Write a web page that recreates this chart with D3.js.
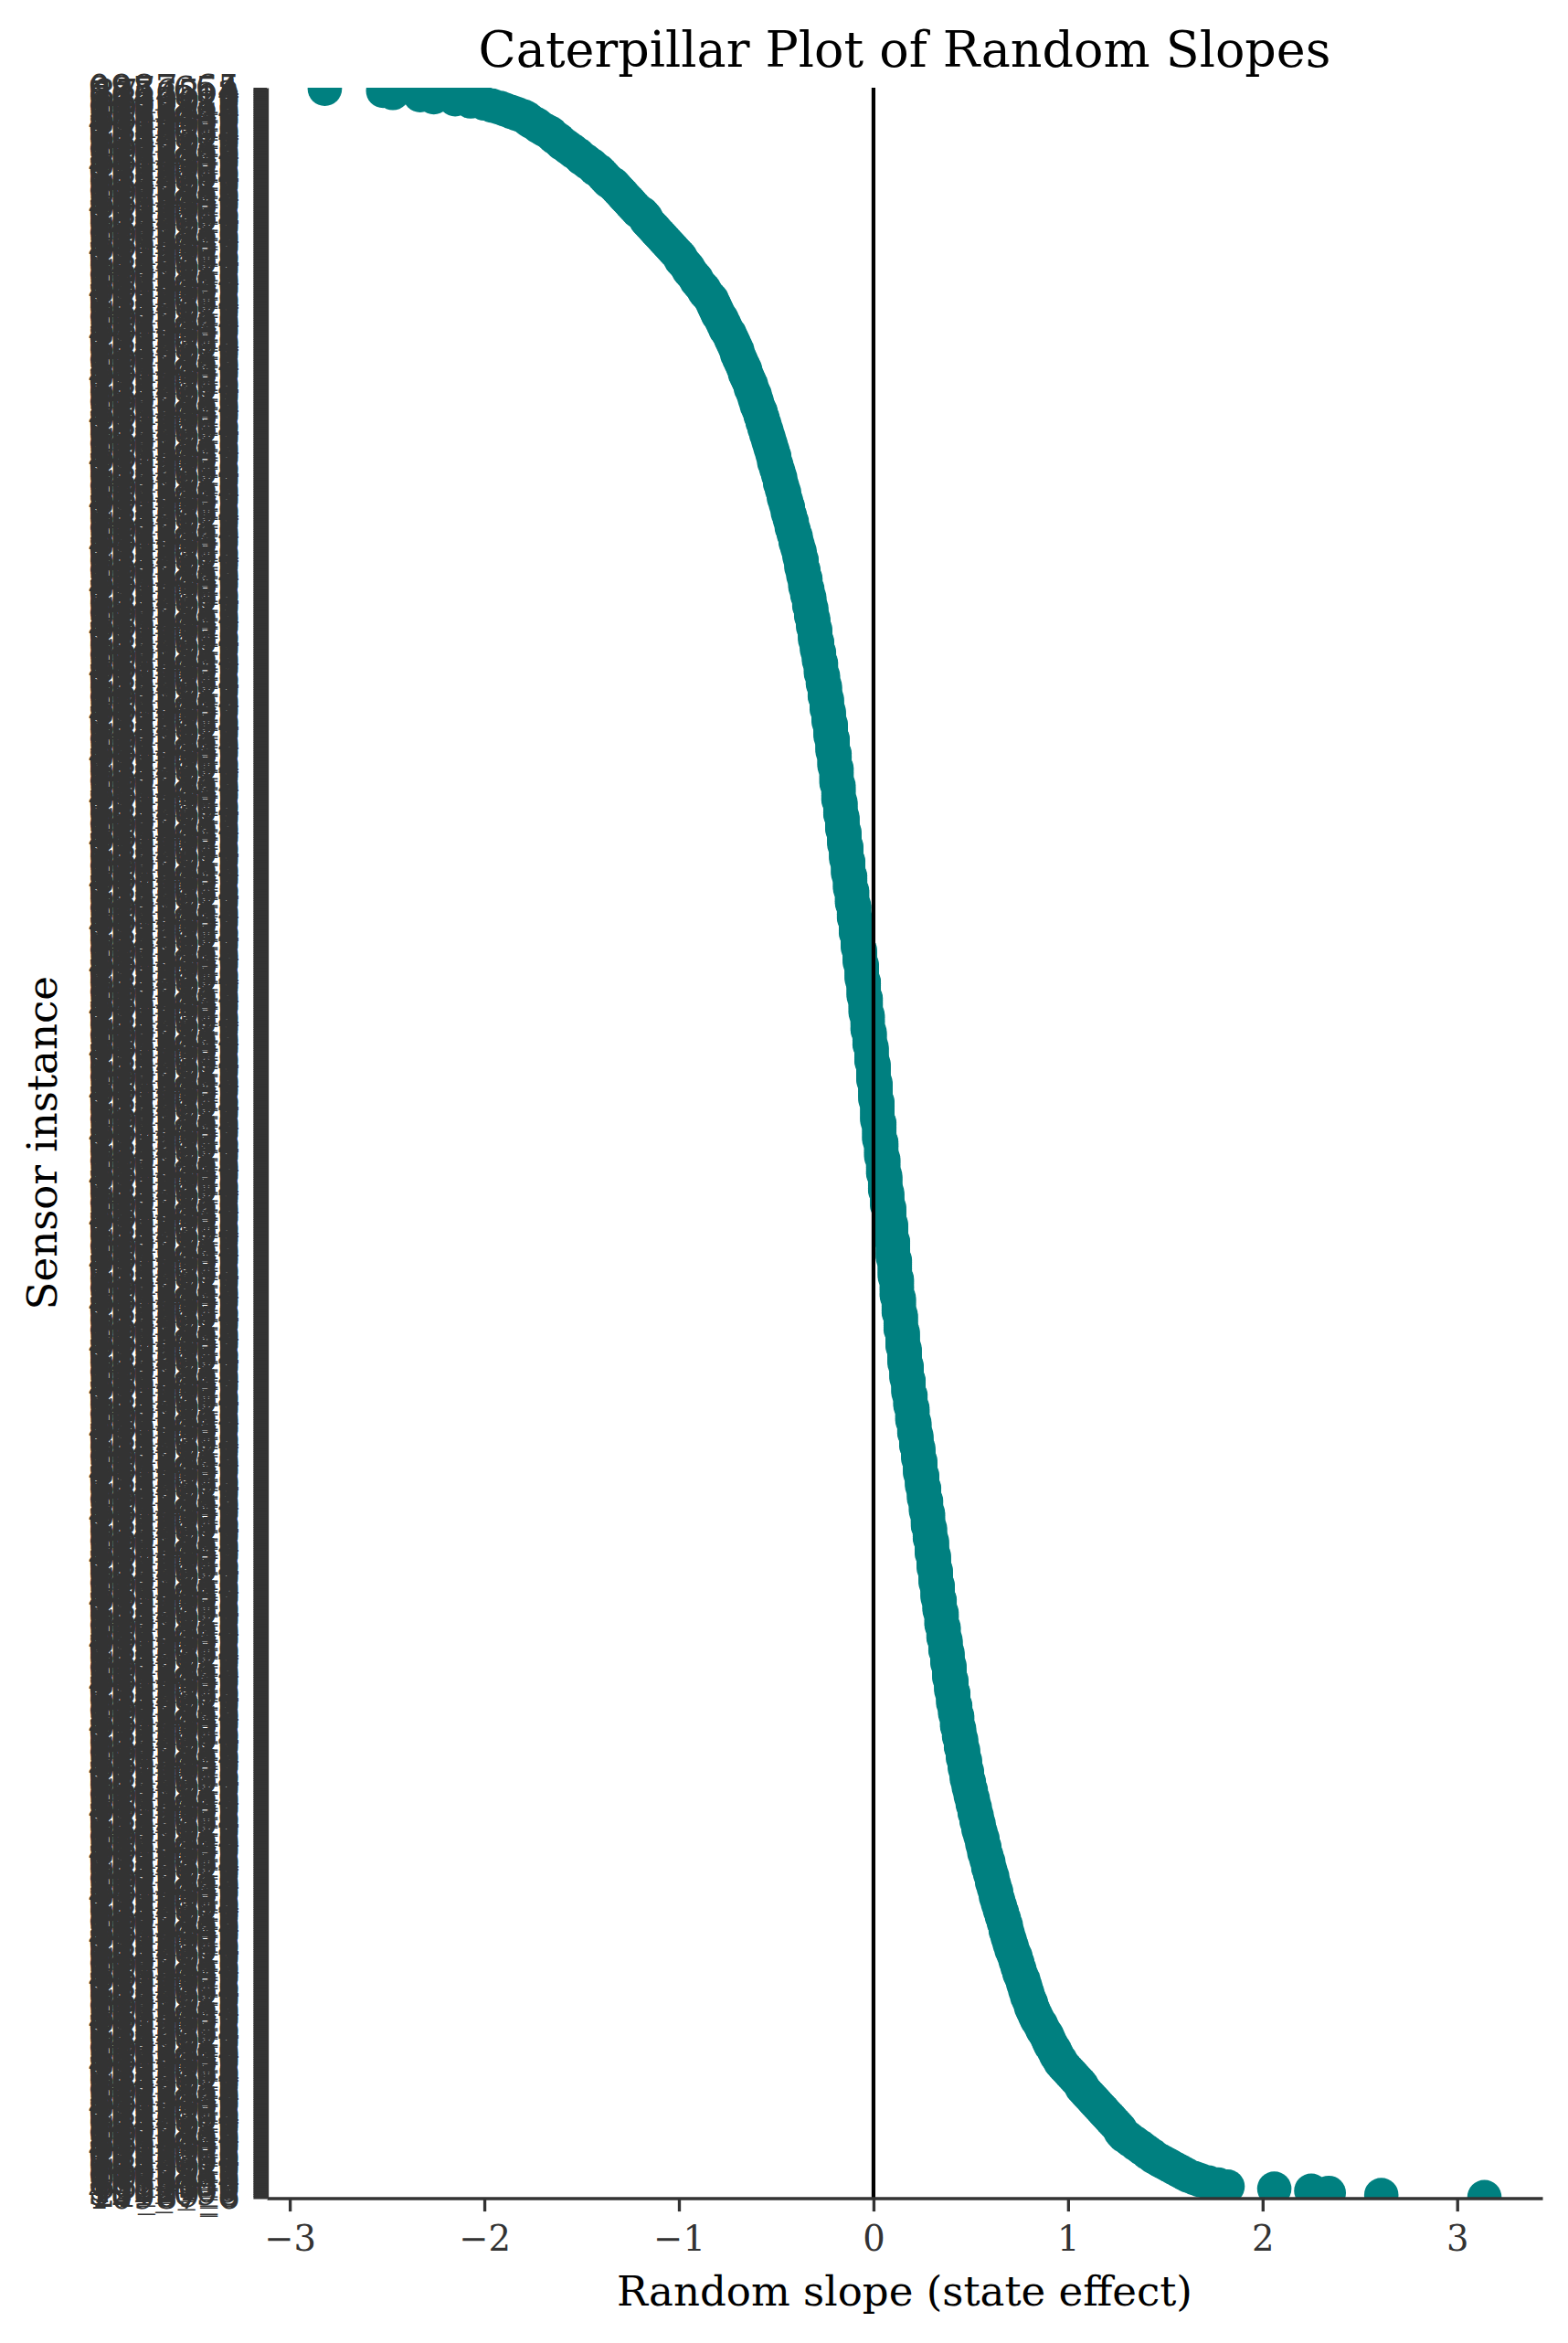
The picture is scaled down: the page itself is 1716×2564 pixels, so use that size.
<!DOCTYPE html>
<html>
<head>
<meta charset="utf-8">
<script src="https://cdn.jsdelivr.net/npm/d3@7"></script>
<style>
  html, body { margin: 0; padding: 0; background: #fff; }
  svg { display: block; }
</style>
</head>
<body>
<svg id="chart" width="1716" height="2564"></svg>
<script>
// ---- Data (sorted random slopes, top row of the plot first) ----
const slopes = [
-2.82,-2.52,-2.47,-2.33,-2.26,-2.15,-2.07,-2.00,-1.96,-1.92,-1.89,-1.86,-1.83,-1.80,-1.78,-1.77,-1.75,-1.73,-1.72,-1.70,
-1.68,-1.66,-1.65,-1.64,-1.62,-1.61,-1.60,-1.58,-1.57,-1.55,-1.54,-1.52,-1.51,-1.50,-1.48,-1.47,-1.45,-1.44,-1.43,-1.41,
-1.40,-1.39,-1.38,-1.37,-1.36,-1.34,-1.33,-1.32,-1.31,-1.30,-1.29,-1.28,-1.27,-1.26,-1.25,-1.24,-1.23,-1.22,-1.21,-1.19,
-1.18,-1.17,-1.17,-1.16,-1.15,-1.14,-1.13,-1.12,-1.11,-1.10,-1.09,-1.08,-1.07,-1.06,-1.05,-1.04,-1.03,-1.02,-1.01,-1.00,
-0.99,-0.99,-0.98,-0.97,-0.96,-0.95,-0.95,-0.94,-0.93,-0.92,-0.91,-0.91,-0.90,-0.89,-0.88,-0.87,-0.87,-0.86,-0.85,-0.84,
-0.83,-0.83,-0.82,-0.82,-0.81,-0.81,-0.80,-0.80,-0.79,-0.78,-0.78,-0.77,-0.77,-0.76,-0.76,-0.75,-0.74,-0.74,-0.73,-0.73,
-0.72,-0.72,-0.71,-0.71,-0.70,-0.70,-0.70,-0.69,-0.69,-0.68,-0.68,-0.67,-0.67,-0.66,-0.66,-0.66,-0.65,-0.65,-0.64,-0.64,
-0.63,-0.63,-0.63,-0.62,-0.62,-0.61,-0.61,-0.61,-0.60,-0.60,-0.60,-0.59,-0.59,-0.58,-0.58,-0.58,-0.57,-0.57,-0.57,-0.56,
-0.56,-0.56,-0.55,-0.55,-0.55,-0.54,-0.54,-0.54,-0.53,-0.53,-0.53,-0.52,-0.52,-0.52,-0.51,-0.51,-0.51,-0.51,-0.50,-0.50,
-0.50,-0.49,-0.49,-0.49,-0.48,-0.48,-0.48,-0.48,-0.47,-0.47,-0.47,-0.46,-0.46,-0.46,-0.46,-0.45,-0.45,-0.45,-0.44,-0.44,
-0.44,-0.44,-0.43,-0.43,-0.43,-0.42,-0.42,-0.42,-0.42,-0.41,-0.41,-0.41,-0.40,-0.40,-0.40,-0.40,-0.39,-0.39,-0.39,-0.38,
-0.38,-0.38,-0.38,-0.37,-0.37,-0.37,-0.37,-0.37,-0.36,-0.36,-0.36,-0.36,-0.35,-0.35,-0.35,-0.35,-0.35,-0.34,-0.34,-0.34,
-0.34,-0.33,-0.33,-0.33,-0.33,-0.33,-0.32,-0.32,-0.32,-0.32,-0.32,-0.31,-0.31,-0.31,-0.31,-0.31,-0.30,-0.30,-0.30,-0.30,
-0.30,-0.30,-0.29,-0.29,-0.29,-0.29,-0.29,-0.28,-0.28,-0.28,-0.28,-0.28,-0.27,-0.27,-0.27,-0.27,-0.27,-0.27,-0.26,-0.26,
-0.26,-0.26,-0.26,-0.25,-0.25,-0.25,-0.25,-0.25,-0.25,-0.24,-0.24,-0.24,-0.24,-0.24,-0.24,-0.23,-0.23,-0.23,-0.23,-0.23,
-0.23,-0.22,-0.22,-0.22,-0.22,-0.22,-0.22,-0.22,-0.21,-0.21,-0.21,-0.21,-0.21,-0.21,-0.21,-0.20,-0.20,-0.20,-0.20,-0.20,
-0.20,-0.20,-0.19,-0.19,-0.19,-0.19,-0.19,-0.19,-0.19,-0.19,-0.18,-0.18,-0.18,-0.18,-0.18,-0.18,-0.18,-0.18,-0.17,-0.17,
-0.17,-0.17,-0.17,-0.17,-0.17,-0.16,-0.16,-0.16,-0.16,-0.16,-0.16,-0.16,-0.15,-0.15,-0.15,-0.15,-0.15,-0.15,-0.15,-0.14,
-0.14,-0.14,-0.14,-0.14,-0.14,-0.14,-0.13,-0.13,-0.13,-0.13,-0.13,-0.13,-0.13,-0.12,-0.12,-0.12,-0.12,-0.12,-0.12,-0.12,
-0.11,-0.11,-0.11,-0.11,-0.11,-0.11,-0.11,-0.10,-0.10,-0.10,-0.10,-0.10,-0.10,-0.10,-0.09,-0.09,-0.09,-0.09,-0.09,-0.09,
-0.09,-0.08,-0.08,-0.08,-0.08,-0.08,-0.08,-0.08,-0.07,-0.07,-0.07,-0.07,-0.07,-0.07,-0.07,-0.06,-0.06,-0.06,-0.06,-0.06,
-0.06,-0.06,-0.06,-0.05,-0.05,-0.05,-0.05,-0.05,-0.05,-0.05,-0.05,-0.04,-0.04,-0.04,-0.04,-0.04,-0.04,-0.04,-0.04,-0.03,
-0.03,-0.03,-0.03,-0.03,-0.03,-0.03,-0.03,-0.02,-0.02,-0.02,-0.02,-0.02,-0.02,-0.02,-0.01,-0.01,-0.01,-0.01,-0.01,-0.01,
-0.01,-0.01,0.00,0.00,0.00,0.00,0.00,0.00,0.00,0.00,0.00,0.01,0.01,0.01,0.01,0.01,0.01,0.01,0.01,0.01,
0.02,0.02,0.02,0.02,0.02,0.02,0.02,0.02,0.02,0.02,0.03,0.03,0.03,0.03,0.03,0.03,0.03,0.03,0.03,0.04,
0.04,0.04,0.04,0.04,0.04,0.04,0.04,0.05,0.05,0.05,0.05,0.05,0.05,0.05,0.05,0.06,0.06,0.06,0.06,0.06,
0.06,0.06,0.06,0.07,0.07,0.07,0.07,0.07,0.07,0.07,0.08,0.08,0.08,0.08,0.08,0.08,0.08,0.08,0.09,0.09,
0.09,0.09,0.09,0.09,0.09,0.09,0.10,0.10,0.10,0.10,0.10,0.10,0.10,0.10,0.10,0.11,0.11,0.11,0.11,0.11,
0.11,0.11,0.11,0.11,0.12,0.12,0.12,0.12,0.12,0.12,0.12,0.12,0.12,0.13,0.13,0.13,0.13,0.13,0.13,0.13,
0.13,0.14,0.14,0.14,0.14,0.14,0.14,0.14,0.14,0.15,0.15,0.15,0.15,0.15,0.15,0.15,0.15,0.16,0.16,0.16,
0.16,0.16,0.16,0.16,0.16,0.17,0.17,0.17,0.17,0.17,0.17,0.17,0.18,0.18,0.18,0.18,0.18,0.18,0.18,0.19,
0.19,0.19,0.19,0.19,0.19,0.20,0.20,0.20,0.20,0.20,0.20,0.20,0.21,0.21,0.21,0.21,0.21,0.21,0.22,0.22,
0.22,0.22,0.22,0.22,0.23,0.23,0.23,0.23,0.23,0.23,0.24,0.24,0.24,0.24,0.24,0.24,0.24,0.25,0.25,0.25,
0.25,0.25,0.25,0.26,0.26,0.26,0.26,0.26,0.26,0.27,0.27,0.27,0.27,0.27,0.27,0.28,0.28,0.28,0.28,0.28,
0.28,0.28,0.29,0.29,0.29,0.29,0.29,0.29,0.30,0.30,0.30,0.30,0.30,0.30,0.30,0.31,0.31,0.31,0.31,0.31,
0.31,0.31,0.32,0.32,0.32,0.32,0.32,0.32,0.32,0.33,0.33,0.33,0.33,0.33,0.33,0.33,0.34,0.34,0.34,0.34,
0.34,0.34,0.35,0.35,0.35,0.35,0.35,0.35,0.35,0.36,0.36,0.36,0.36,0.36,0.36,0.37,0.37,0.37,0.37,0.37,
0.37,0.38,0.38,0.38,0.38,0.38,0.38,0.39,0.39,0.39,0.39,0.39,0.39,0.39,0.40,0.40,0.40,0.40,0.40,0.40,
0.41,0.41,0.41,0.41,0.41,0.41,0.42,0.42,0.42,0.42,0.42,0.43,0.43,0.43,0.43,0.43,0.43,0.44,0.44,0.44,
0.44,0.44,0.45,0.45,0.45,0.45,0.45,0.46,0.46,0.46,0.46,0.46,0.47,0.47,0.47,0.47,0.47,0.48,0.48,0.48,
0.48,0.48,0.49,0.49,0.49,0.49,0.50,0.50,0.50,0.50,0.51,0.51,0.51,0.51,0.52,0.52,0.52,0.52,0.53,0.53,
0.53,0.53,0.54,0.54,0.54,0.54,0.55,0.55,0.55,0.56,0.56,0.56,0.56,0.57,0.57,0.57,0.57,0.58,0.58,0.58,
0.59,0.59,0.59,0.59,0.60,0.60,0.60,0.61,0.61,0.61,0.61,0.62,0.62,0.62,0.63,0.63,0.63,0.63,0.64,0.64,
0.64,0.65,0.65,0.65,0.66,0.66,0.66,0.67,0.67,0.67,0.68,0.68,0.68,0.68,0.69,0.69,0.69,0.70,0.70,0.70,
0.71,0.71,0.71,0.72,0.72,0.73,0.73,0.73,0.74,0.74,0.74,0.75,0.75,0.75,0.76,0.76,0.77,0.77,0.77,0.78,
0.78,0.78,0.79,0.79,0.79,0.80,0.80,0.81,0.81,0.81,0.82,0.82,0.83,0.83,0.84,0.84,0.85,0.86,0.86,0.87,
0.87,0.88,0.89,0.89,0.90,0.90,0.91,0.91,0.92,0.93,0.93,0.94,0.94,0.95,0.96,0.96,0.97,0.98,0.99,1.00,
1.01,1.02,1.03,1.04,1.05,1.06,1.07,1.07,1.08,1.09,1.10,1.11,1.12,1.13,1.14,1.15,1.16,1.17,1.18,1.19,
1.20,1.21,1.22,1.23,1.24,1.25,1.26,1.27,1.27,1.28,1.29,1.31,1.32,1.34,1.35,1.37,1.38,1.40,1.41,1.43,
1.44,1.46,1.48,1.50,1.52,1.54,1.56,1.58,1.60,1.62,1.65,1.68,1.72,1.77,1.82,2.06,2.25,2.34,2.61,3.14
];

// sensor instance identifiers (one per row; unreadable in the source because they overlap)
const sensorIds = slopes.map((_, i) => {
  const d = n => String((i * 7919 + n * 104729 + 31) % 10);   // pseudo digit
  const k = i % 4;
  if (k === 0) return d(1) + d(2) + d(3) + d(4) + "_" + d(5) + d(6);
  if (k === 1) return d(1) + d(2) + d(3) + "_" + d(4) + d(5) + d(6);
  if (k === 2) return d(1) + d(2) + "_" + d(3) + d(4) + "_" + d(5);
  return d(1) + d(2) + d(3) + d(4) + d(5) + "_" + d(6);
});

const xTickValues = [-3, -2, -1, 0, 1, 2, 3];
const titleText = "Caterpillar Plot of Random Slopes";
const xLabelText = "Random slope (state effect)";
const yLabelText = "Sensor instance";

// ---- Layout ----
const W = 1716, H = 2564;
const plot = { left: 292, right: 1688, top: 96, bottom: 2405.5 };
const FONT = "'DejaVu Serif', 'Liberation Serif', serif";
const TICK_COLOR = "#333333";
const TEAL = "#008080";
const TICK_LEN = 14.6;
const LW = 3.33;

const svg = d3.select("#chart");
svg.append("rect").attr("width", W).attr("height", H).attr("fill", "#fff");

// x scale with 5% margins around data extent (matplotlib-like)
const ext = d3.extent(slopes);
const pad = (ext[1] - ext[0]) * 0.05;
const x = d3.scaleLinear().domain([ext[0] - pad, ext[1] + pad]).range([plot.left, plot.right]);
// categorical row positions (by row index, labelled with the sensor id)
const rows = d3.range(slopes.length);
const y = d3.scalePoint().domain(rows).range([plot.top, plot.bottom]).padding(0.5);

// clip path
svg.append("defs").append("clipPath").attr("id", "plotclip")
  .append("rect")
  .attr("x", plot.left).attr("y", plot.top)
  .attr("width", plot.right - plot.left).attr("height", plot.bottom - plot.top);

// points
svg.append("g").attr("clip-path", "url(#plotclip)")
  .selectAll("circle")
  .data(slopes)
  .join("circle")
  .attr("cx", d => x(d))
  .attr("cy", (d, i) => y(i))
  .attr("r", 18.8)
  .attr("fill", TEAL);

// vertical reference line at 0
svg.append("line")
  .attr("x1", x(0)).attr("x2", x(0))
  .attr("y1", plot.top).attr("y2", plot.bottom)
  .attr("stroke", "#000").attr("stroke-width", 4.17);

// y axis
const yAxis = d3.axisLeft(y)
  .tickFormat(i => sensorIds[i])
  .tickSize(TICK_LEN).tickSizeOuter(0).tickPadding(TICK_LEN);
const gy = svg.append("g").attr("transform", `translate(${plot.left},0)`).call(yAxis);
gy.attr("font-size", null).attr("font-family", null);
gy.select(".domain").attr("stroke", TICK_COLOR).attr("stroke-width", LW);
gy.selectAll(".tick line").attr("stroke", TICK_COLOR).attr("stroke-width", LW);
gy.selectAll(".tick text")
  .attr("fill", TICK_COLOR)
  .style("font-family", FONT)
  .style("font-size", "38.5px");

// x axis
const xAxis = d3.axisBottom(x).tickValues(xTickValues).tickFormat(d3.format("d"))
  .tickSize(TICK_LEN).tickSizeOuter(0).tickPadding(15.6);
const gx = svg.append("g").attr("transform", `translate(0,${plot.bottom})`).call(xAxis);
gx.attr("font-size", null).attr("font-family", null);
gx.select(".domain").attr("stroke", TICK_COLOR).attr("stroke-width", LW);
gx.selectAll(".tick line").attr("stroke", TICK_COLOR).attr("stroke-width", LW);
gx.selectAll(".tick text")
  .attr("fill", TICK_COLOR)
  .style("font-family", FONT)
  .style("font-size", "38.5px");

// helper: fit text to a target width
function fitText(sel, target, start) {
  sel.style("font-size", start + "px");
  const len = sel.node().getComputedTextLength();
  const size = len > 0 ? start * target / len : start;
  sel.style("font-size", size + "px");
  return size;
}

const cx = (plot.left + plot.right) / 2;

// title
const title = svg.append("text")
  .attr("x", cx).attr("y", 73)
  .attr("text-anchor", "middle")
  .attr("fill", "#000")
  .style("font-family", FONT)
  .text(titleText);
fitText(title, 933, 54);

// x label
const xl = svg.append("text")
  .attr("x", cx).attr("y", 2523)
  .attr("text-anchor", "middle")
  .attr("fill", "#000")
  .style("font-family", FONT)
  .text(xLabelText);
const labelSize = fitText(xl, 630, 45);

// y label
svg.append("text")
  .attr("transform", `translate(62,${(plot.top + plot.bottom) / 2}) rotate(-90)`)
  .attr("text-anchor", "middle")
  .attr("fill", "#000")
  .style("font-family", FONT)
  .style("font-size", labelSize + "px")
  .text(yLabelText);
</script>
</body>
</html>
